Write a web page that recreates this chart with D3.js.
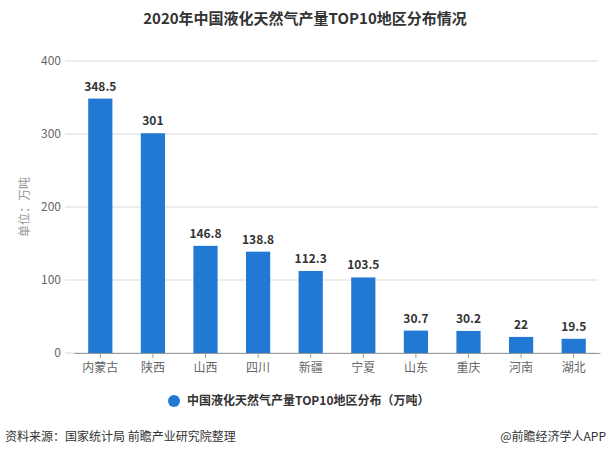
<!DOCTYPE html>
<html>
<head>
<meta charset="utf-8">
<script src="https://cdn.jsdelivr.net/npm/d3@7"></script>
<style>
  body { margin: 0; background: #fff; }
  text { font-family: "Microsoft YaHei", "Noto Sans CJK SC", sans-serif; }
</style>
</head>
<body>
<svg id="chart"></svg>
<script>
// Data
let regions = ['内蒙古', '陕西', '山西', '四川', '新疆', '宁夏', '山东', '重庆', '河南', '湖北'];
let output = [348.5, 301, 146.8, 138.8, 112.3, 103.5, 30.7, 30.2, 22, 19.5];
let yTicks = [0, 100, 200, 300, 400];

let width = 610;
let height = 457;

let svg = d3.select("#chart")
    .attr("width", width)
    .attr("height", height);

// Scales
let x = d3.scaleBand()
    .domain(regions)
    .range([74, 600])
    .paddingInner(0.54)
    .paddingOuter(0.27);

let y = d3.scaleLinear()
    .domain([0, 400])
    .range([353, 61]);

// Title
svg.append("text")
    .attr("x", 305)
    .attr("y", 24)
    .attr("text-anchor", "middle")
    .attr("font-size", 15)
    .attr("font-weight", "bold")
    .attr("fill", "#333")
    .text("2020年中国液化天然气产量TOP10地区分布情况");

// Grid lines
svg.append("g")
    .selectAll("line")
    .data(yTicks)
    .enter()
    .append("line")
    .attr("x1", 65)
    .attr("x2", 598)
    .attr("y1", d => y(d))
    .attr("y2", d => y(d))
    .attr("stroke", "#d9d9d9");

// Y tick labels
svg.append("g")
    .selectAll("text")
    .data(yTicks)
    .enter()
    .append("text")
    .attr("x", 61)
    .attr("y", d => y(d) + 4)
    .attr("text-anchor", "end")
    .attr("font-size", 12)
    .attr("fill", "#666")
    .text(d => d);

// Y axis title
svg.append("text")
    .attr("transform", "translate(29,207) rotate(-90)")
    .attr("text-anchor", "middle")
    .attr("font-size", 12)
    .attr("fill", "#999")
    .text("单位：万吨");

// Bars
svg.append("g")
    .selectAll("rect")
    .data(output)
    .enter()
    .append("rect")
    .attr("x", (d, i) => x(regions[i]))
    .attr("y", d => y(d))
    .attr("width", x.bandwidth())
    .attr("height", d => y(0) - y(d))
    .attr("fill", "#2279d3");

// Value labels
svg.append("g")
    .selectAll("text")
    .data(output)
    .enter()
    .append("text")
    .attr("x", (d, i) => x(regions[i]) + x.bandwidth() / 2)
    .attr("y", d => y(d) - 8)
    .attr("text-anchor", "middle")
    .attr("font-size", 12)
    .attr("font-weight", "bold")
    .attr("fill", "#333")
    .text(d => d);

// X axis
let xAxis = svg.append("g")
    .attr("transform", `translate(0, ${y(0)})`)
    .call(d3.axisBottom(x).tickSize(5).tickSizeOuter(0));
xAxis.select(".domain").attr("stroke", "#999");
xAxis.selectAll(".tick line").attr("stroke", "#999");
xAxis.selectAll(".tick text")
    .attr("font-size", 12)
    .attr("fill", "#666")
    .attr("dy", "0.9em")
    .style("font-family", '"Microsoft YaHei", "Noto Sans CJK SC", sans-serif');

// Legend
svg.append("circle")
    .attr("cx", 174)
    .attr("cy", 401)
    .attr("r", 6)
    .attr("fill", "#2279d3");
svg.append("text")
    .attr("x", 187)
    .attr("y", 405)
    .attr("font-size", 12)
    .attr("font-weight", "bold")
    .attr("fill", "#333")
    .text("中国液化天然气产量TOP10地区分布（万吨）");

// Footer
svg.append("text")
    .attr("x", 5)
    .attr("y", 441)
    .attr("font-size", 12)
    .attr("fill", "#333")
    .text("资料来源：国家统计局 前瞻产业研究院整理");
svg.append("text")
    .attr("x", 606)
    .attr("y", 441)
    .attr("text-anchor", "end")
    .attr("font-size", 12)
    .attr("fill", "#333")
    .text("@前瞻经济学人APP");
</script>
</body>
</html>
